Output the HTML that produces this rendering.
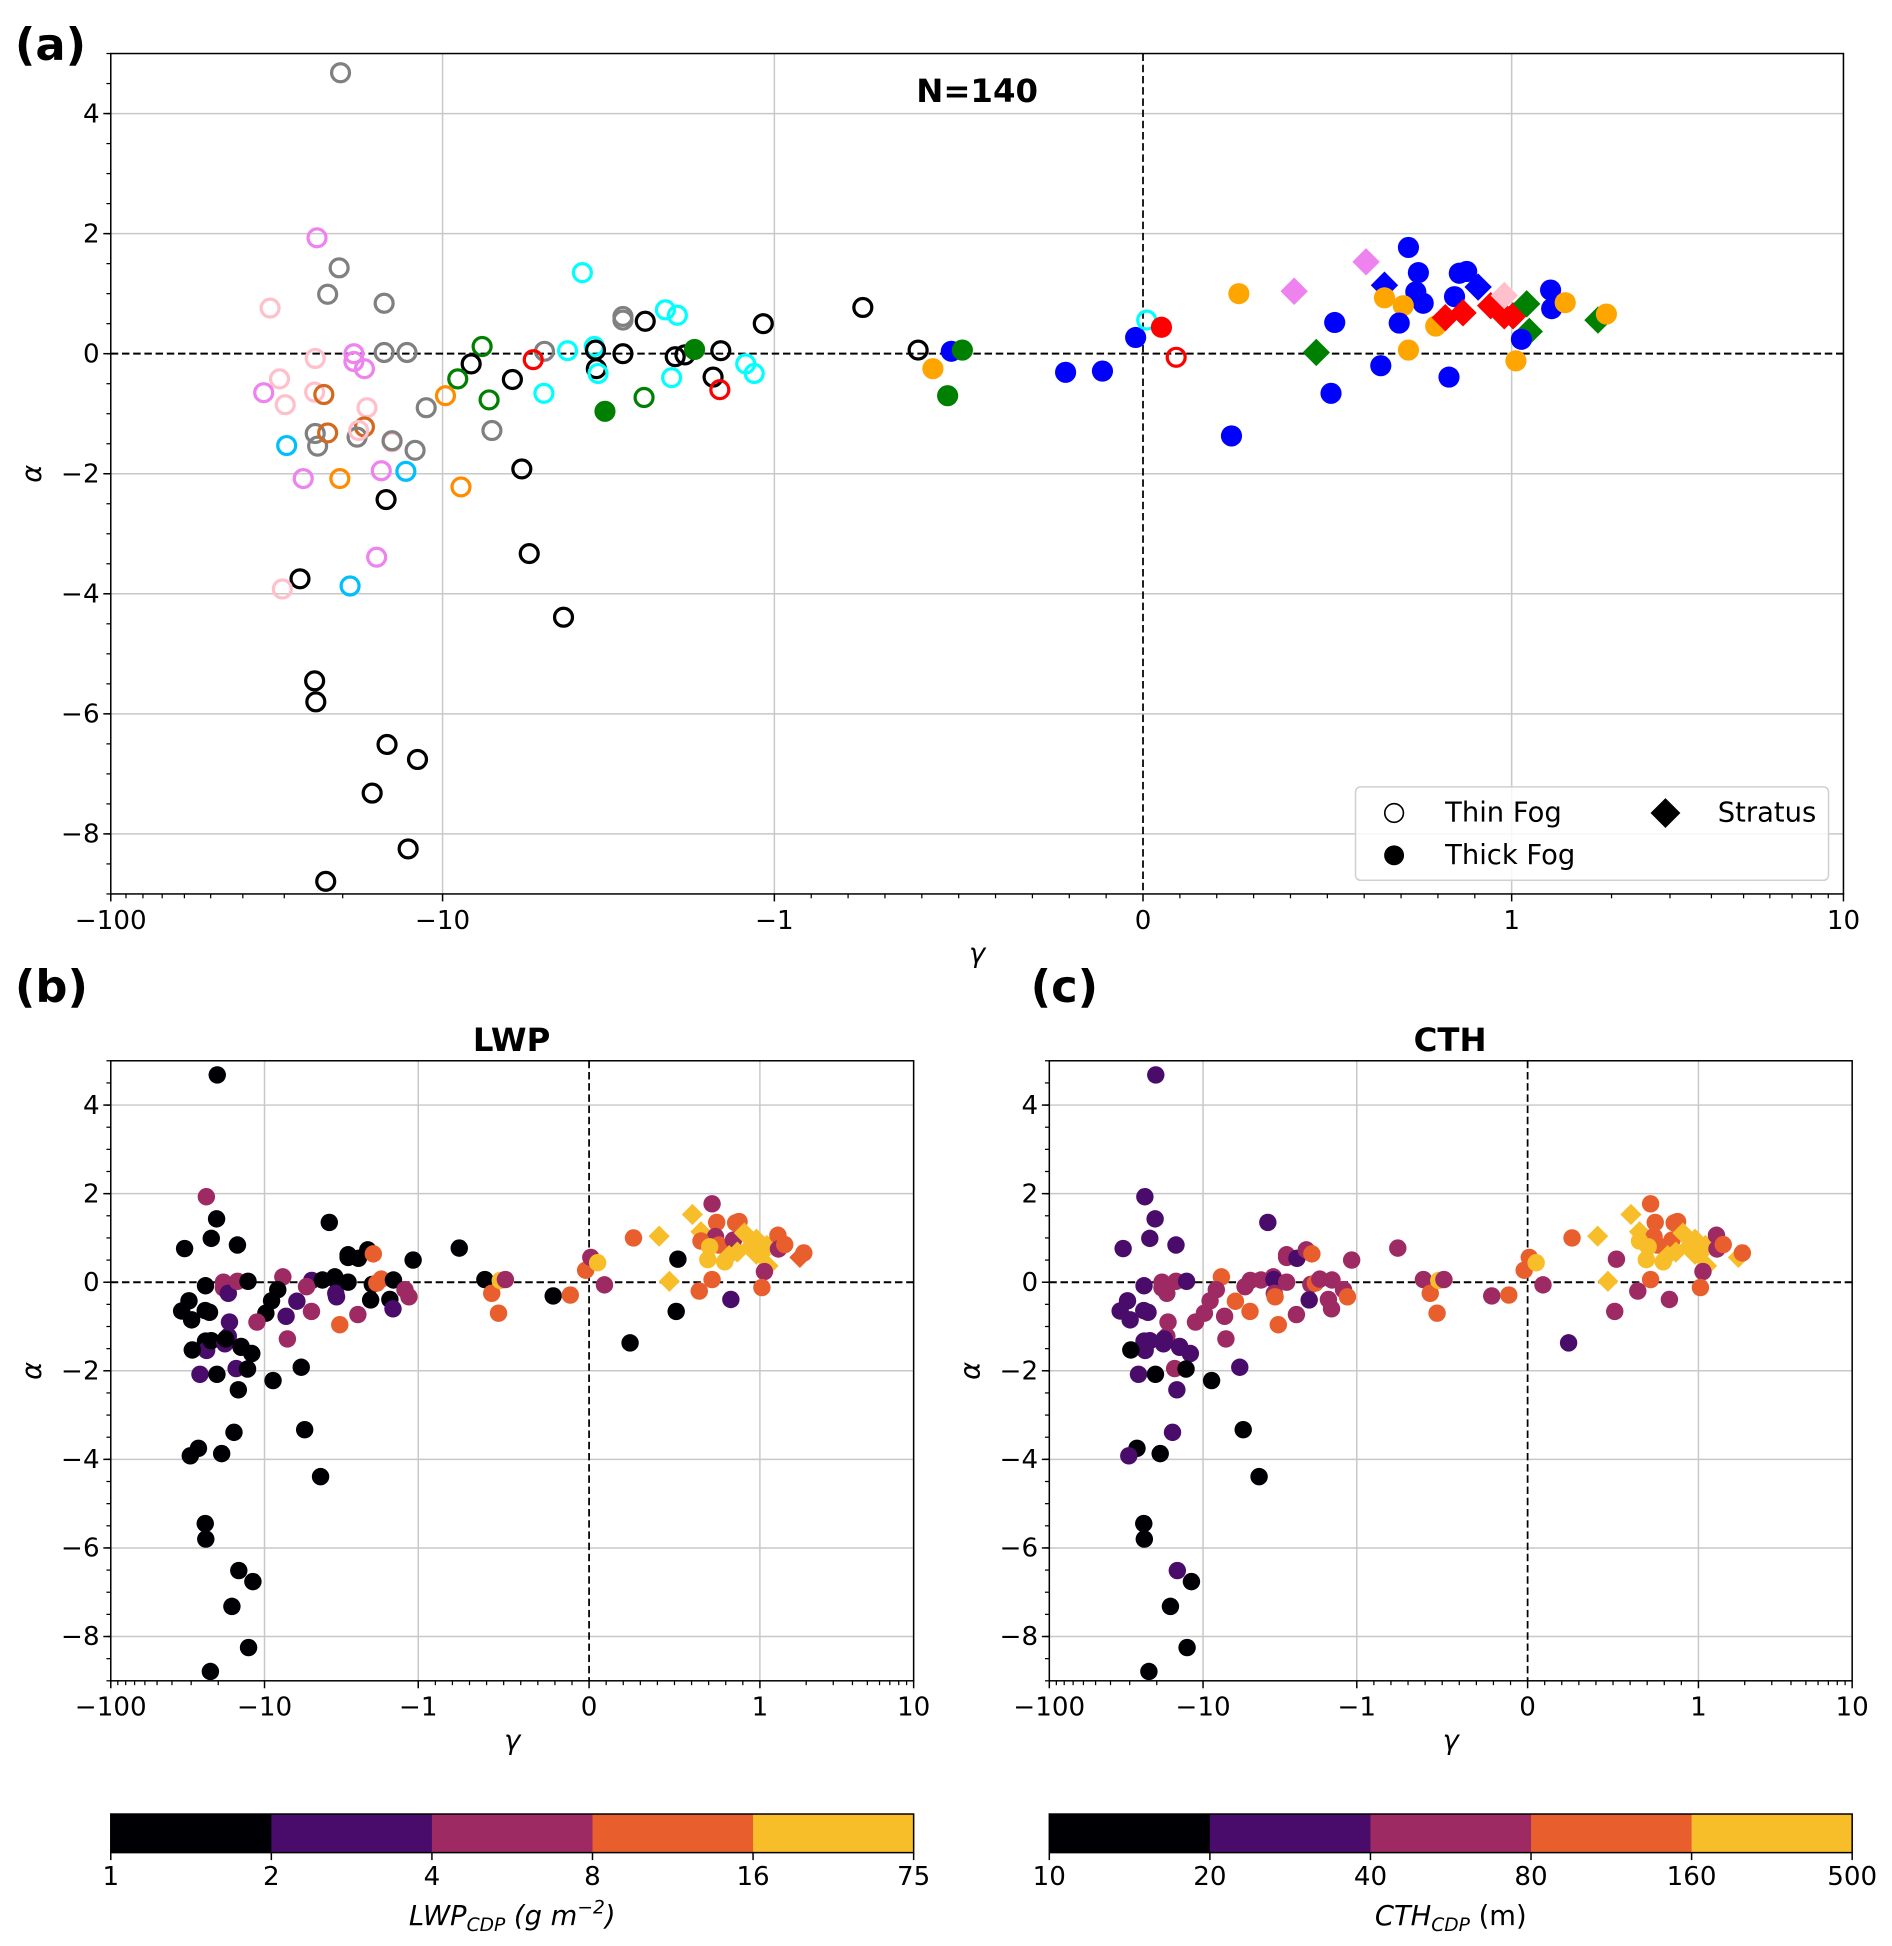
<!DOCTYPE html>
<html><head><meta charset="utf-8"><style>
html,body{margin:0;padding:0;background:#fff}
svg{display:block}
text{font-family:"DejaVu Sans","Liberation Sans",sans-serif}
</style></head><body>
<svg id="fig" xmlns="http://www.w3.org/2000/svg" width="1892" height="1946" viewBox="0 0 1520 1563" preserveAspectRatio="none">
<text x="12" y="48" font-size="36" font-weight="bold">(a)</text>
<text x="12" y="805" font-size="36" font-weight="bold">(b)</text>
<text x="828" y="805" font-size="36" font-weight="bold">(c)</text>
<text x="785" y="82" font-size="26" font-weight="bold" text-anchor="middle">N=140</text>
<text x="411" y="844" font-size="26" font-weight="bold" text-anchor="middle">LWP</text>
<text x="1165" y="844" font-size="26" font-weight="bold" text-anchor="middle">CTH</text>
<g id="layer"></g>
</svg>
<script>
const gammaVals=[-20.3,-23.9,-20.5,-22.2,-33.1,-15,-3.79,-2.86,-2.86,-2.45,-2.13,-1.96,-1.08,-24.2,-18.5,-18.5,-17.2,-15,-12.8,-7.6,-8.2,-4.93,-5.33,-4.2,-3.49,-3.46,-3.44,-3.4,-2.86,-1.99,-1.86,-1.74,-1.45,-1.22,-1.15,-1.53,-1.46,-2.04,-2.47,-3.24,-4.95,-6.16,-7.24,-9.0,-9.8,-11.2,-7.1,-5.77,-8.8,-5.48,-4.32,-31,-34.6,-29.8,-24.3,-22.8,-16.9,-24.2,-23.8,-22.2,-17.2,-18.1,-17.9,-14.2,-14.2,-12.1,-29.5,-26.3,-20.4,-15.3,-12.9,-14.8,-15.8,-26.9,-30.4,-19.0,-24.3,-24.1,-14.7,-11.9,-16.3,-12.7,-22.5,-0.76,-0.61,-0.57,-0.52,-0.49,-0.53,-0.21,-0.11,-0.02,0.01,0.05,0.09,0.26,0.41,0.24,0.47,0.52,0.51,0.605,0.72,0.655,0.747,0.74,0.76,0.655,0.706,0.695,0.794,0.858,0.878,0.845,0.909,0.82,0.868,0.943,0.98,1.01,0.98,1.11,1.13,1.07,1.31,1.32,1.45,1.82,1.93,0.72,0.645,0.83,1.03];
const alphaVals=[4.68,1.93,1.43,0.99,0.76,0.84,1.35,0.56,0.62,0.54,0.73,0.64,0.5,-0.08,0,-0.13,-0.25,0.02,0.02,0.12,-0.17,0.04,-0.1,0.05,0.12,0.06,-0.25,-0.33,0,-0.05,-0.02,0.07,0.05,-0.17,-0.33,-0.39,-0.6,-0.4,-0.73,-0.96,-0.66,-0.43,-0.77,-0.42,-0.7,-0.9,-1.28,-1.92,-2.22,-3.33,-4.39,-0.42,-0.65,-0.85,-0.64,-0.68,-0.9,-1.33,-1.54,-1.32,-1.22,-1.39,-1.28,-1.47,-1.45,-1.61,-1.53,-2.08,-2.08,-1.95,-1.96,-2.43,-3.39,-3.75,-3.92,-3.87,-5.45,-5.8,-6.51,-6.76,-7.32,-8.25,-8.79,0.77,0.06,-0.25,0.04,0.06,-0.7,-0.31,-0.29,0.27,0.56,0.44,-0.06,1.0,1.04,-1.37,0.02,0.52,-0.66,1.53,1.77,1.14,1.35,1.03,0.84,0.93,0.80,0.51,0.46,1.34,1.37,0.95,1.11,0.6,0.68,0.8,0.63,0.63,0.97,0.83,0.37,0.24,1.06,0.75,0.85,0.56,0.66,0.06,-0.2,-0.39,-0.12];
const colorVals=["gray","violet","gray","gray","pink","gray","cyan","gray","gray","black","cyan","cyan","black","pink","violet","violet","violet","gray","gray","green","black","gray","red","cyan","cyan","black","black","cyan","black","black","black","green","black","cyan","cyan","black","red","cyan","green","green","cyan","black","green","green","darkorange","gray","gray","black","darkorange","black","black","pink","violet","pink","pink","chocolate","pink","gray","gray","chocolate","chocolate","gray","pink","pink","gray","gray","deepskyblue","violet","darkorange","violet","deepskyblue","black","violet","black","pink","deepskyblue","black","black","black","black","black","black","black","black","black","orange","blue","green","green","blue","blue","blue","cyan","red","red","orange","violet","blue","green","blue","blue","violet","blue","blue","blue","blue","blue","orange","orange","blue","orange","blue","blue","blue","blue","red","red","red","red","red","pink","green","green","blue","blue","blue","orange","green","orange","orange","blue","blue","orange"];
const markerVals=[
"o","o","o","o","o","o","o","o","o","o","o","o","o","o","o","o","o","o","o","o",
"o","o","o","o","o","o","o","o","o","o","o","f","o","o","o","o","o","o","o","f",
"o","o","o","o","o","o","o","o","o","o","o","o","o","o","o","o","o","o","o","o",
"o","o","o","o","o","o","o","o","o","o","o","o","o","o","o","o","o","o","o","o",
"o","o","o","o","o","f","f","f","f","f","f","f","o","f","o","f","d","f","d","f",
"f","d","f","d","f","f","f","f","f","f","f","f","f","f","d","d","d","d","d","d",
"d","d","d","f","f","f","f","d","f","f","f","f","f"];
const lwpClass=[0,2,0,0,0,0,0,0,0,0,0,3,0,0,2,2,1,2,0,2,0,1,2,0,0,0,1,1,0,0,3,3,0,2,2,0,1,0,2,3,2,1,1,0,0,2,2,0,0,0,0,0,0,0,0,0,1,0,1,0,1,1,0,0,0,0,0,1,0,1,0,0,0,0,0,0,0,0,0,0,0,0,0,0,0,3,4,2,3,0,3,3,2,4,2,3,4,0,4,0,0,4,2,4,3,2,3,3,4,4,4,3,3,2,4,4,4,4,4,4,4,4,4,2,3,2,3,3,3,3,3,1,3];
const cthClass=[1,1,1,1,1,1,1,2,2,1,2,3,2,1,2,2,2,2,1,3,2,2,2,2,2,1,2,3,2,2,3,2,2,2,3,2,2,1,2,3,3,3,2,2,2,2,2,1,0,0,0,1,1,1,1,1,2,1,1,1,2,1,1,1,1,1,0,1,0,2,0,1,1,0,1,0,0,0,1,0,0,0,0,2,2,3,4,2,3,2,3,3,3,4,2,3,4,1,4,2,2,4,3,4,3,3,3,4,4,4,4,3,3,3,4,4,4,4,4,4,4,4,4,2,2,2,3,4,3,3,2,2,3];
const lwpTicks=["1","2","4","8","16","75"];
const cthTicks=["10","20","40","80","160","500"];
const classColors=["#000004","#4a0c6b","#9e2a63","#e85e2d","#f8be29"];
const xTickVals=[-100,-10,-1,0,1,10];
const xTickLabels=["\u2212100","\u221210","\u22121","0","1","10"];
const yTickVals=[4,2,0,-2,-4,-6,-8];

const NS="http://www.w3.org/2000/svg";
const layer=document.getElementById('layer');
function mk(tag,attrs,parent){const e=document.createElementNS(NS,tag);for(const k in attrs)e.setAttribute(k,attrs[k]);(parent||layer).appendChild(e);return e;}
const LS=1/0.9;
function symT(g){const a=Math.abs(g);return a<=1?g*LS:Math.sign(g)*(LS+Math.log10(a));}
const tMin=symT(-100),tMax=symT(10);

function panel(p){
  const xs=g=>p.x0+(symT(g)-tMin)/(tMax-tMin)*(p.x1-p.x0);
  const ys=a=>p.y0+(5-a)/14*(p.y1-p.y0);
  const g=mk('g',{});
  
  
  xTickVals.forEach(v=>{if(v===0)return;const l=mk('line',{x1:xs(v),x2:xs(v),y1:p.y0,y2:p.y1,stroke:'#c8c8c8','stroke-width':1.2},g);
    });
  yTickVals.forEach(v=>{if(v===0)return;const l=mk('line',{x1:p.x0,x2:p.x1,y1:ys(v),y2:ys(v),stroke:'#c8c8c8','stroke-width':1.2},g);
    });
  const zx=mk('line',{x1:xs(0),x2:xs(0),y1:p.y0,y2:p.y1,stroke:'#000','stroke-width':1.4,'stroke-dasharray':'6,3'},g);
  
  const zy=mk('line',{x1:p.x0,x2:p.x1,y1:ys(0),y2:ys(0),stroke:'#000','stroke-width':1.6,'stroke-dasharray':'6,3'},g);
  
  const pg=mk('g',{},g);
  
  gammaVals.forEach((gv,i)=>{
    const cx=xs(gv),cy=ys(alphaVals[i]);const m=markerVals[i];
    const col=p.mode==='a'?colorVals[i]:classColors[(p.mode==='lwp'?lwpClass:cthClass)[i]];
    let el;
    if(m==='d'){const r=p.dr;el=mk('polygon',{points:`${cx},${cy-r} ${cx+r},${cy} ${cx},${cy+r} ${cx-r},${cy}`,fill:col},pg);}
    else if(m==='o'&&p.mode==='a'){el=mk('circle',{cx:cx,cy:cy,r:p.r-1.3,fill:'none',stroke:col,'stroke-width':2.6},pg);}
    else{el=mk('circle',{cx:cx,cy:cy,r:p.r,fill:col},pg);}
    
    
  });
  const fr=mk('rect',{x:p.x0,y:p.y0,width:p.x1-p.x0,height:p.y1-p.y0,fill:'none',stroke:'#000','stroke-width':1.2},g);
  
  xTickVals.forEach((v,i)=>{mk('line',{x1:xs(v),x2:xs(v),y1:p.y1,y2:p.y1+6,stroke:'#000','stroke-width':1.2},g);
    const t=mk('text',{x:xs(v),y:p.y1+28,'font-size':21,'text-anchor':'middle'},g);t.textContent=xTickLabels[i];
    });
  [-100,-10,1].forEach(d=>{for(let k=2;k<10;k++){const v=d*k;if(v<-100||v>10)continue;
    mk('line',{x1:xs(v),x2:xs(v),y1:p.y1,y2:p.y1+3.5,stroke:'#000','stroke-width':1},g);}});
  for(let k=-9;k<=9;k++){if(k===0)continue;mk('line',{x1:xs(k/10),x2:xs(k/10),y1:p.y1,y2:p.y1+3.5,stroke:'#000','stroke-width':1},g);}
  yTickVals.forEach(v=>{mk('line',{x1:p.x0-6,x2:p.x0,y1:ys(v),y2:ys(v),stroke:'#000','stroke-width':1.2},g);
    const t=mk('text',{x:p.x0-9,y:ys(v)+7,'font-size':21,'text-anchor':'end'},g);t.textContent=(v<0?'\u2212':'')+Math.abs(v);
    });
  for(let v=-9;v<=5;v+=0.5){mk('line',{x1:p.x0-3.5,x2:p.x0,y1:ys(v),y2:ys(v),stroke:'#000','stroke-width':1},g);}
  const xl=mk('text',{x:(p.x0+p.x1)/2,y:p.y1+55,'font-size':22,'font-style':'italic','text-anchor':'middle'},g);xl.textContent='\u03b3';
  
  const ycx=p.x0-56,ycy=(p.y0+p.y1)/2;
  const yl=mk('text',{x:ycx,y:ycy,'font-size':22,'font-style':'italic','text-anchor':'middle',transform:`rotate(-90 ${ycx} ${ycy})`},g);yl.textContent='\u03b1';
  
}
panel({name:'panel-a',x0:89,x1:1481,y0:43,y1:718,r:8.5,dr:11,mode:'a'});
panel({name:'panel-b',x0:89,x1:734,y0:852,y1:1350,r:7,dr:8.5,mode:'lwp'});
panel({name:'panel-c',x0:843,x1:1488,y0:852,y1:1350,r:7,dr:8.5,mode:'cth'});

const lg=mk('g',{});


mk('rect',{x:1089,y:632,width:380,height:75,rx:4,fill:'#fff','fill-opacity':0.85,stroke:'#d0d0d0','stroke-width':1.2},lg);
mk('circle',{cx:1120,cy:653,r:7.5,fill:'none',stroke:'#000','stroke-width':1.3},lg);
mk('circle',{cx:1120,cy:687,r:8,fill:'#000'},lg);
mk('polygon',{points:'1338,641 1350,653 1338,665 1326,653',fill:'#000'},lg);
[['Thin Fog',1161,660],['Thick Fog',1161,694],['Stratus',1380,660]].forEach(d=>{const t=mk('text',{x:d[1],y:d[2],'font-size':22},lg);t.textContent=d[0];
  });

function cbar(name,x0,x1,ticks,labelHTML){
  const g=mk('g',{});
  
  
  const w=(x1-x0)/classColors.length;
  classColors.forEach((c,i)=>mk('rect',{x:x0+i*w,y:1457,width:w+0.5,height:31,fill:c},g));
  mk('rect',{x:x0,y:1457,width:x1-x0,height:31,fill:'none',stroke:'#000','stroke-width':1.2},g);
  ticks.forEach((tk,i)=>{const x=x0+i*w;mk('line',{x1:x,x2:x,y1:1488,y2:1494,stroke:'#000','stroke-width':1.2},g);
    const t=mk('text',{x:x,y:1514,'font-size':21,'text-anchor':'middle'},g);t.textContent=tk;
    });
  const t=mk('text',{x:(x0+x1)/2,y:1546,'font-size':22,'text-anchor':'middle'},g);t.innerHTML=labelHTML;
  
}
cbar('lwp-colorbar',89,734,lwpTicks,'<tspan font-style="italic">LWP</tspan><tspan font-style="italic" font-size="15" dy="5">CDP</tspan><tspan font-style="italic" dy="-5"> (g m</tspan><tspan font-style="italic" font-size="15" dy="-9">\u22122</tspan><tspan font-style="italic" dy="9">)</tspan>');
cbar('cth-colorbar',843,1488,cthTicks,'<tspan font-style="italic">CTH</tspan><tspan font-style="italic" font-size="15" dy="5">CDP</tspan><tspan dy="-5"> (m)</tspan>');
</script>
</body></html>
